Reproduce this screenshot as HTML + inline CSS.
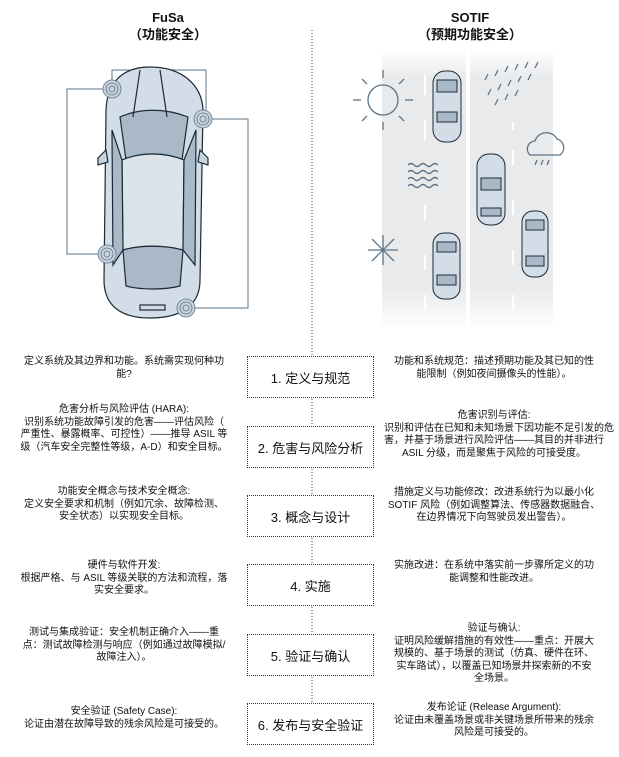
<!DOCTYPE html>
<html><head><meta charset="utf-8">
<style>
body{margin:0;width:619px;height:757px;background:#fff;position:relative;overflow:hidden;font-family:"Liberation Sans","Noto Sans CJK SC",sans-serif;color:#111}
.t{position:absolute;text-align:center;font-size:10px;line-height:12.6px;white-space:nowrap}
.l{left:13px;width:222px}
.r{left:384px;width:220px}
.box{position:absolute;left:247px;width:127px;height:42px;border:1px dotted #333;box-sizing:border-box;display:flex;align-items:center;justify-content:center;font-size:13px}
.h{position:absolute;text-align:center;font-weight:bold;font-size:13px;line-height:17px;width:160px}
</style></head><body>
<svg width="619" height="757" style="position:absolute;left:0;top:0">
<defs>
<linearGradient id="rg" x1="0" y1="0" x2="0" y2="1"><stop offset="0" stop-color="#fff"/><stop offset="0.1" stop-color="#e9eaec"/><stop offset="0.85" stop-color="#e9eaec"/><stop offset="1" stop-color="#fff"/></linearGradient>
</defs>
<line x1="312" y1="30" x2="312" y2="356" stroke="#333" stroke-dasharray="1,2"/>
<line x1="312" y1="399" x2="312" y2="426" stroke="#333" stroke-dasharray="1,2"/>
<line x1="312" y1="469" x2="312" y2="495" stroke="#333" stroke-dasharray="1,2"/>
<line x1="312" y1="538" x2="312" y2="564" stroke="#333" stroke-dasharray="1,2"/>
<line x1="312" y1="607" x2="312" y2="634" stroke="#333" stroke-dasharray="1,2"/>
<line x1="312" y1="677" x2="312" y2="703" stroke="#333" stroke-dasharray="1,2"/>
<g fill="none" stroke="#5d7487" stroke-width="1">
<polyline points="112,89 112,70 206,70 206,119"/>
<polyline points="111,89 67,89 67,254 107,254"/>
<polyline points="203,119 248,119 248,308 186,308"/>
</g>
<g stroke="#1c2a36" stroke-width="1.2">
<path d="M150,67 C120,67 107,85 106,110 L104,280 C104,305 120,318 150,318 C182,318 200,305 200,280 L203,110 C202,85 182,67 150,67Z" fill="#d3dde7"/>
<path d="M120,117 C140,108 165,108 188,117 L182,160 C165,152 140,152 126,160Z" fill="#a9b9c8"/>
<path d="M122,160 C140,152 165,152 184,160 L183,250 C165,245 140,245 123,250Z" fill="#dbe3eb"/>
<path d="M123,250 C140,245 165,245 183,250 L180,286 C165,290 140,290 126,286Z" fill="#a9b9c8"/>
<path d="M112,130 L122,160 L123,250 L113,265Z" fill="#a9b9c8"/>
<path d="M196,130 L184,160 L183,250 L195,265Z" fill="#a9b9c8"/>
<path d="M106,150 L98,158 L98,165 L108,162Z" fill="#c7d3de"/>
<path d="M200,150 L208,158 L208,165 L198,162Z" fill="#c7d3de"/>
<rect x="140" y="305" width="25" height="5" fill="#d3dde7"/>
<path d="M140,70 L133,117 M160,70 L167,117" fill="none"/>
</g>
<g fill="none" stroke="#5d7487" stroke-width="0.8">
<circle cx="112" cy="89" r="9" fill="#c7d3de"/><circle cx="112" cy="89" r="6"/><circle cx="112" cy="89" r="3"/>
<circle cx="203" cy="119" r="9" fill="#c7d3de"/><circle cx="203" cy="119" r="6"/><circle cx="203" cy="119" r="3"/>
<circle cx="107" cy="254" r="9" fill="#c7d3de"/><circle cx="107" cy="254" r="6"/><circle cx="107" cy="254" r="3"/>
<circle cx="186" cy="308" r="9" fill="#c7d3de"/><circle cx="186" cy="308" r="6"/><circle cx="186" cy="308" r="3"/>
</g>
<rect x="382" y="50" width="171" height="280" fill="url(#rg)"/>
<rect x="466" y="50" width="4" height="280" fill="#fff"/>
<g stroke="#fff" stroke-width="2">
<line x1="425" y1="75" x2="425" y2="95"/><line x1="425" y1="120" x2="425" y2="140"/><line x1="425" y1="205" x2="425" y2="220"/><line x1="425" y1="255" x2="425" y2="270"/><line x1="425" y1="295" x2="425" y2="310"/>
<line x1="513" y1="122" x2="513" y2="130"/><line x1="513" y1="150" x2="513" y2="165"/><line x1="513" y1="200" x2="513" y2="215"/><line x1="513" y1="250" x2="513" y2="265"/><line x1="513" y1="295" x2="513" y2="310"/>
</g>
<g stroke="#1c2a36" stroke-width="1" fill="#d3dde7">
<rect x="433" y="71" width="28" height="71" rx="12"/><rect x="437" y="80" width="20" height="12" fill="#a9b9c8"/><rect x="437" y="112" width="20" height="10" fill="#a9b9c8"/>
<rect x="477" y="154" width="28" height="71" rx="12"/><rect x="481" y="178" width="20" height="12" fill="#a9b9c8"/><rect x="481" y="208" width="20" height="8" fill="#a9b9c8"/>
<rect x="433" y="233" width="27" height="66" rx="11"/><rect x="437" y="242" width="19" height="10" fill="#a9b9c8"/><rect x="437" y="275" width="19" height="10" fill="#a9b9c8"/>
<rect x="522" y="211" width="26" height="66" rx="11"/><rect x="526" y="220" width="18" height="10" fill="#a9b9c8"/><rect x="526" y="256" width="18" height="10" fill="#a9b9c8"/>
</g>
<g stroke="#5d7487" stroke-width="1.3" fill="none">
<circle cx="383" cy="100" r="15"/>
<line x1="383" y1="70" x2="383" y2="78"/><line x1="383" y1="122" x2="383" y2="130"/><line x1="353" y1="100" x2="361" y2="100"/><line x1="405" y1="100" x2="413" y2="100"/>
<line x1="362" y1="79" x2="367" y2="84"/><line x1="399" y1="116" x2="404" y2="121"/><line x1="404" y1="79" x2="399" y2="84"/><line x1="362" y1="121" x2="367" y2="116"/>
<path d="M530,155 a8,8 0 0,1 5,-14 a12,12 0 0,1 22,-2 a9,9 0 0,1 3,16Z"/>
<path d="M408,165 q3,-3 6,0 t6,0 t6,0 t6,0 t6,0 M408,172 q3,-3 6,0 t6,0 t6,0 t6,0 t6,0 M408,179 q3,-3 6,0 t6,0 t6,0 t6,0 t6,0 M408,186 q3,-3 6,0 t6,0 t6,0 t6,0 t6,0"/>
<path d="M368,250 L398,250 M383,235 L383,265 M372,239 L394,261 M394,239 L372,261"/>
<path d="M485,80 l3,-6 M495,76 l3,-6 M505,72 l3,-6 M515,70 l3,-6 M525,68 l3,-6 M535,68 l3,-6 M488,95 l3,-6 M498,90 l3,-6 M508,86 l3,-6 M518,82 l3,-6 M528,80 l3,-6 M495,105 l3,-6 M505,100 l3,-6 M515,96 l3,-6"/>
<path d="M535,165 l2,-5 M541,165 l2,-5 M547,165 l2,-5"/>
</g>
</svg>
<div class="h" style="left:88px;top:9px">FuSa<br>（功能安全）</div>
<div class="h" style="left:390px;top:9px">SOTIF<br>（预期功能安全）</div>
<div class="box" style="top:356px">1. 定义与规范</div>
<div class="box" style="top:426px">2. 危害与风险分析</div>
<div class="box" style="top:495px">3. 概念与设计</div>
<div class="box" style="top:564px">4. 实施</div>
<div class="box" style="top:634px">5. 验证与确认</div>
<div class="box" style="top:703px">6. 发布与安全验证</div>
<div class="t l" style="top:356px">定义系统及其边界和功能。系统需实现何种功<br>能?</div>
<div class="t l" style="top:404px">危害分析与风险评估 (HARA):<br>识别系统功能故障引发的危害——评估风险（<br>严重性、暴露概率、可控性）——推导 ASIL 等<br>级（汽车安全完整性等级，A-D）和安全目标。</div>
<div class="t l" style="top:486px">功能安全概念与技术安全概念:<br>定义安全要求和机制（例如冗余、故障检测、<br>安全状态）以实现安全目标。</div>
<div class="t l" style="top:560px">硬件与软件开发:<br>根据严格、与 ASIL 等级关联的方法和流程，落<br>实安全要求。</div>
<div class="t l" style="top:627px">测试与集成验证：安全机制正确介入——重<br>点：测试故障检测与响应（例如通过故障模拟/<br>故障注入）。</div>
<div class="t l" style="top:706px">安全验证 (Safety Case):<br>论证由潜在故障导致的残余风险是可接受的。</div>
<div class="t r" style="top:356px">功能和系统规范：描述预期功能及其已知的性<br>能限制（例如夜间摄像头的性能）。</div>
<div class="t r" style="top:410px">危害识别与评估:<br>识别和评估在已知和未知场景下因功能不足引发的危<br>害，并基于场景进行风险评估——其目的并非进行<br>ASIL 分级，而是聚焦于风险的可接受度。</div>
<div class="t r" style="top:487px">措施定义与功能修改：改进系统行为以最小化<br>SOTIF 风险（例如调整算法、传感器数据融合、<br>在边界情况下向驾驶员发出警告）。</div>
<div class="t r" style="top:560px">实施改进：在系统中落实前一步骤所定义的功<br>能调整和性能改进。</div>
<div class="t r" style="top:623px">验证与确认:<br>证明风险缓解措施的有效性——重点：开展大<br>规模的、基于场景的测试（仿真、硬件在环、<br>实车路试），以覆盖已知场景并探索新的不安<br>全场景。</div>
<div class="t r" style="top:702px">发布论证 (Release Argument):<br>论证由未覆盖场景或非关键场景所带来的残余<br>风险是可接受的。</div>
</body></html>
